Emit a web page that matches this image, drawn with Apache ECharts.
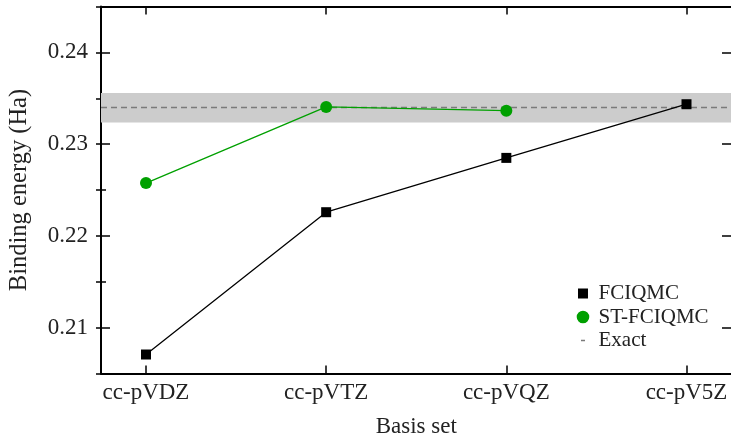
<!DOCTYPE html>
<html>
<head>
<meta charset="utf-8">
<script src="https://cdn.jsdelivr.net/npm/echarts@6/dist/echarts.min.js"></script>
<style>html,body{margin:0;padding:0;background:#fff}#c{width:731px;height:437px}</style>
</head>
<body>
<div id="c"></div>
<script>
const categories = ['cc-pVDZ', 'cc-pVTZ', 'cc-pVQZ', 'cc-pV5Z'];
const fciqmc = [0.20707, 0.22258, 0.2285, 0.23435];
const stFciqmc = [0.22576, 0.23405, 0.23365, null];
const exactValue = 0.234;
const exactBand = [0.23235, 0.23558];
const yRange = [0.205, 0.245];

const FONT = 'Liberation Serif';
const TXT = '#222';
const chart = echarts.init(document.getElementById('c'), null, {renderer: 'canvas'});

const DOTS = 'M0,0h0.01v0.01h-0.01zM17,13h0.01v0.01h-0.01z';
const iconRect = 'path://' + DOTS + 'M1.5,1.5h10v10h-10z';
const iconCircle = 'path://' + DOTS + 'M0.2,6.5a6.3,6.3 0 1 0 12.6,0a6.3,6.3 0 1 0 -12.6,0z';
const iconDash = 'path://' + DOTS + 'M4.5,5.8h4v1.4h-4z';

function frameY(pos, withLabels, interval, len) {
  const ax = {
    type: 'value', gridIndex: 1, position: pos, min: yRange[0], max: yRange[1],
    axisLine: {show: false},
    axisTick: {show: true, inside: true, length: len, lineStyle: {color: '#000', width: 1.5}},
    splitLine: {show: false},
    axisLabel: {show: false}
  };
  if (interval) ax.interval = interval; else ax.splitNumber = 4;
  if (withLabels) {
    ax.axisLabel = {
      show: true, margin: 13, fontFamily: FONT, fontSize: 23, color: TXT,
      formatter: v => (Math.abs(Math.round(v * 100) - v * 100) < 1e-6) ? v.toFixed(2) : ''
    };
  }
  return ax;
}

const option = {
  animation: false,
  grid: [
    {left: 146, right: 44.5, top: 6.5, bottom: 63.5, outerBoundsMode: 'none', containLabel: false},
    {left: 101, right: 0, top: 6.5, bottom: 63.5, outerBoundsMode: 'none', containLabel: false}
  ],
  xAxis: [
    {
      type: 'category', gridIndex: 0, position: 'bottom', data: categories, boundaryGap: false,
      axisLine: {show: false},
      axisTick: {show: true, inside: true, length: 8, alignWithLabel: true, lineStyle: {color: '#000', width: 1.5}},
      axisLabel: {margin: 8, fontFamily: FONT, fontSize: 23, color: TXT},
      name: 'Basis set', nameLocation: 'middle', nameGap: 42,
      nameTextStyle: {fontFamily: FONT, fontSize: 23, color: TXT}
    },
    {
      type: 'category', gridIndex: 0, position: 'top', data: categories, boundaryGap: false,
      axisLine: {show: false},
      axisTick: {show: true, inside: true, length: 8, alignWithLabel: true, lineStyle: {color: '#000', width: 1.5}},
      axisLabel: {show: false}
    },
    {
      type: 'value', gridIndex: 1, position: 'bottom', min: 0, max: 1,
      axisLine: {show: true, onZero: false, lineStyle: {color: '#000', width: 2}},
      axisTick: {show: false}, axisLabel: {show: false}, splitLine: {show: false}
    },
    {
      type: 'value', gridIndex: 1, position: 'top', min: 0, max: 1,
      axisLine: {show: true, onZero: false, lineStyle: {color: '#000', width: 2}},
      axisTick: {show: false}, axisLabel: {show: false}, splitLine: {show: false}
    }
  ],
  yAxis: [
    Object.assign(frameY('left', true, 0.005, 5), {
      axisLine: {show: true, onZero: false, lineStyle: {color: '#000', width: 2}},
      name: 'Binding energy (Ha)', nameLocation: 'middle', nameGap: 69,
      nameTextStyle: {fontFamily: FONT, fontSize: 24.5, color: TXT}
    }),
    frameY('left', false, null, 9),
    frameY('right', false, 0.005, 5),
    frameY('right', false, null, 9),
    {type: 'value', gridIndex: 0, min: yRange[0], max: yRange[1], show: false}
  ],
  legend: {
    orient: 'vertical', left: 576.5, top: 282, padding: 0,
    itemWidth: 17, itemHeight: 13, itemGap: 0.5,
    textStyle: {fontFamily: FONT, fontSize: 21, color: TXT, lineHeight: 23},
    data: [
      {name: 'FCIQMC', icon: iconRect},
      {name: 'ST-FCIQMC', icon: iconCircle},
      {name: 'Exact', icon: iconDash}
    ]
  },
  series: [
    {
      name: 'Exact', type: 'line', xAxisIndex: 2, yAxisIndex: 0, z: 1,
      data: [[0, exactValue], [1, exactValue]], symbol: 'none',
      color: '#7a7a7a',
      lineStyle: {color: '#7a7a7a', width: 1.5, type: [6, 4]},
      markArea: {
        silent: true,
        itemStyle: {color: '#cccccc'},
        data: [[{yAxis: exactBand[0]}, {yAxis: exactBand[1]}]]
      }
    },
    {
      name: 'FCIQMC', type: 'line', xAxisIndex: 0, yAxisIndex: 4, z: 3,
      data: fciqmc, symbol: 'rect', symbolSize: 10, color: '#000',
      itemStyle: {color: '#000'}, lineStyle: {color: '#000', width: 1.3}
    },
    {
      name: 'ST-FCIQMC', type: 'line', xAxisIndex: 0, yAxisIndex: 4, z: 3,
      data: stFciqmc, symbol: 'circle', symbolSize: 12, color: '#00a000',
      itemStyle: {color: '#00a000'}, lineStyle: {color: '#00a000', width: 1.3}
    }
  ]
};
chart.setOption(option);
</script>
</body>
</html>
